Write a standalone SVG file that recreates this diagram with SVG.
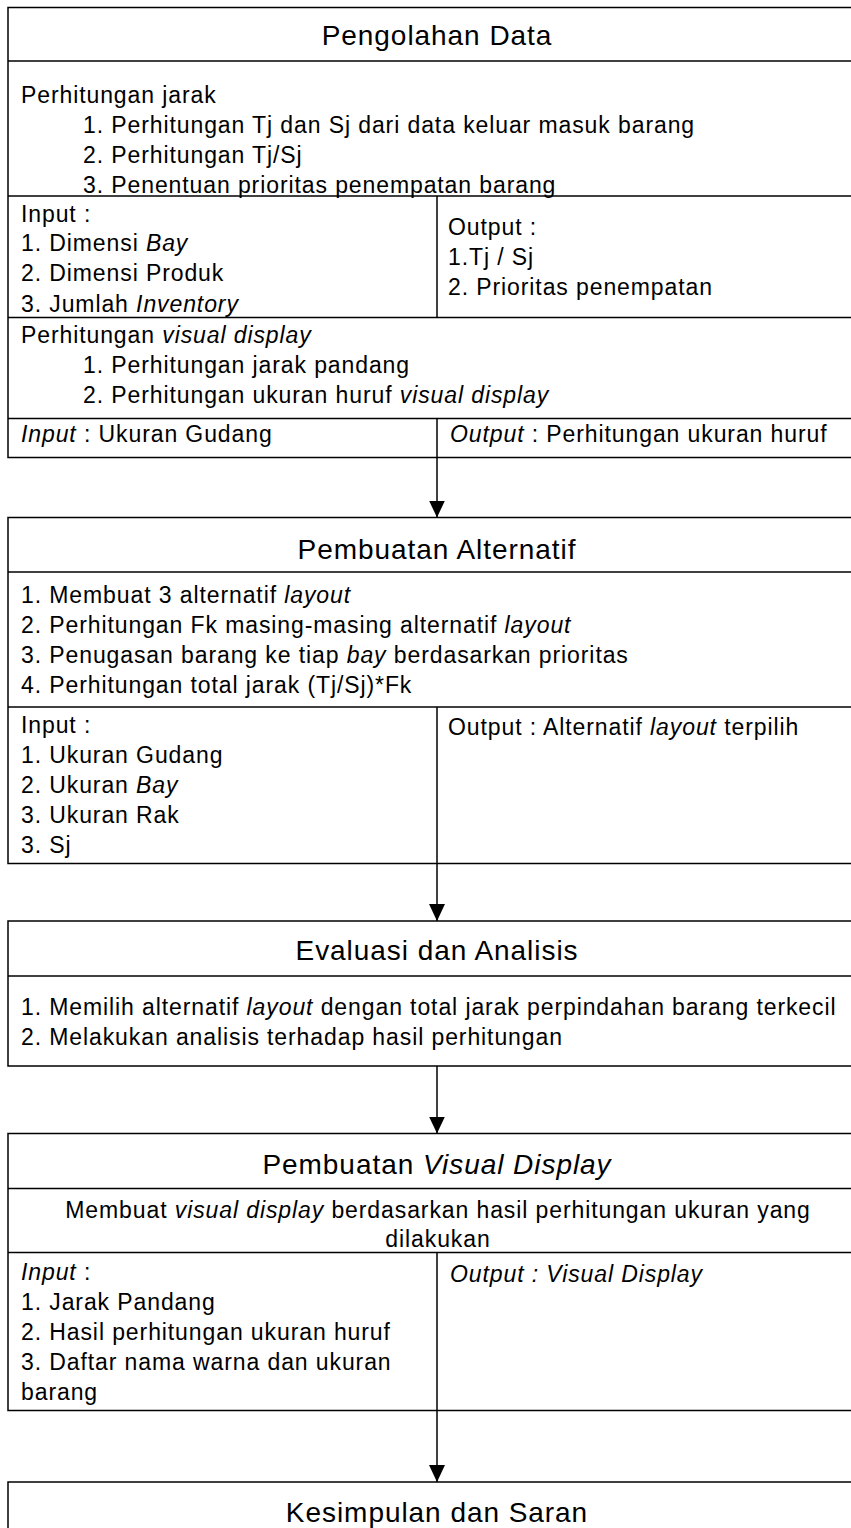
<svg xmlns="http://www.w3.org/2000/svg" width="851" height="1528" viewBox="0 0 851 1528">
<style>
.box{fill:#fff;stroke:#000;stroke-width:1.5}
.ln{stroke:#000;stroke-width:1.5;fill:none}
.t{font-family:"Liberation Sans",Arial,sans-serif;font-size:23px;letter-spacing:0.9px;fill:#000}
.h{font-family:"Liberation Sans",Arial,sans-serif;font-size:28px;letter-spacing:0.95px;fill:#000;text-anchor:middle}
.c{text-anchor:middle}
.i{font-style:italic}
</style>
<defs>
<marker id="arr" markerUnits="userSpaceOnUse" markerWidth="18" markerHeight="18" refX="17" refY="8" orient="auto">
<path d="M0,0 L17,8 L0,16 z" fill="#000"/>
</marker>
</defs>
<rect width="851" height="1528" fill="#fff"/>

<g id="node-pengolahan-data">
<rect class="box" x="8" y="7.5" width="858" height="450"/>
<line class="ln" x1="8" y1="61" x2="866" y2="61"/>
<line class="ln" x1="8" y1="196" x2="866" y2="196"/>
<line class="ln" x1="8" y1="317.5" x2="866" y2="317.5"/>
<line class="ln" x1="8" y1="418.5" x2="866" y2="418.5"/>
<line class="ln" x1="437" y1="196" x2="437" y2="317.5"/>
<line class="ln" x1="437" y1="418.5" x2="437" y2="457.5"/>
<text class="h" x="437" y="45">Pengolahan Data</text>
<text class="t" x="21" y="103">Perhitungan jarak</text>
<text class="t" x="83" y="133">1. Perhitungan Tj dan Sj dari data keluar masuk barang</text>
<text class="t" x="83" y="163">2. Perhitungan Tj/Sj</text>
<text class="t" x="83" y="193">3. Penentuan prioritas penempatan barang</text>
<text class="t" x="21" y="221.5">Input :</text>
<text class="t" x="21" y="251">1. Dimensi <tspan class="i">Bay</tspan></text>
<text class="t" x="21" y="281">2. Dimensi Produk</text>
<text class="t" x="21" y="311.5">3. Jumlah <tspan class="i">Inventory</tspan></text>
<text class="t" x="448" y="235">Output :</text>
<text class="t" x="448" y="265">1.Tj / Sj</text>
<text class="t" x="448" y="295">2. Prioritas penempatan</text>
<text class="t" x="21" y="343">Perhitungan <tspan class="i">visual display</tspan></text>
<text class="t" x="83" y="373">1. Perhitungan jarak pandang</text>
<text class="t" x="83" y="403">2. Perhitungan ukuran huruf <tspan class="i">visual display</tspan></text>
<text class="t" x="21" y="441.5"><tspan class="i">Input</tspan> : Ukuran Gudang</text>
<text class="t" x="450" y="441.5"><tspan class="i">Output</tspan> : Perhitungan ukuran huruf</text>
</g>

<g id="node-pembuatan-alternatif">
<rect class="box" x="8" y="517.5" width="858" height="346"/>
<line class="ln" x1="8" y1="572" x2="866" y2="572"/>
<line class="ln" x1="8" y1="707" x2="866" y2="707"/>
<line class="ln" x1="437" y1="707" x2="437" y2="863.5"/>
<text class="h" x="437" y="559">Pembuatan Alternatif</text>
<text class="t" x="21" y="603">1. Membuat 3 alternatif <tspan class="i">layout</tspan></text>
<text class="t" x="21" y="633">2. Perhitungan Fk masing-masing alternatif <tspan class="i">layout</tspan></text>
<text class="t" x="21" y="663">3. Penugasan barang ke tiap <tspan class="i">bay</tspan> berdasarkan prioritas</text>
<text class="t" x="21" y="693">4. Perhitungan total jarak (Tj/Sj)*Fk</text>
<text class="t" x="21" y="733">Input :</text>
<text class="t" x="21" y="763">1. Ukuran Gudang</text>
<text class="t" x="21" y="793">2. Ukuran <tspan class="i">Bay</tspan></text>
<text class="t" x="21" y="823">3. Ukuran Rak</text>
<text class="t" x="21" y="853">3. Sj</text>
<text class="t" x="448" y="735">Output : Alternatif <tspan class="i">layout</tspan> terpilih</text>
</g>

<g id="node-evaluasi">
<rect class="box" x="8" y="921" width="858" height="145"/>
<line class="ln" x1="8" y1="976" x2="866" y2="976"/>
<text class="h" x="437" y="960">Evaluasi dan Analisis</text>
<text class="t" x="21" y="1015">1. Memilih alternatif <tspan class="i">layout</tspan> dengan total jarak perpindahan barang terkecil</text>
<text class="t" x="21" y="1044.5">2. Melakukan analisis terhadap hasil perhitungan</text>
</g>

<g id="node-visual-display">
<rect class="box" x="8" y="1133.5" width="858" height="277"/>
<line class="ln" x1="8" y1="1188.5" x2="866" y2="1188.5"/>
<line class="ln" x1="8" y1="1252.5" x2="866" y2="1252.5"/>
<line class="ln" x1="437" y1="1252.5" x2="437" y2="1410.5"/>
<text class="h" x="437" y="1174">Pembuatan <tspan class="i">Visual Display</tspan></text>
<text class="t c" x="438" y="1217.5">Membuat <tspan class="i">visual display</tspan> berdasarkan hasil perhitungan ukuran yang</text>
<text class="t c" x="438" y="1247">dilakukan</text>
<text class="t" x="21" y="1280"><tspan class="i">Input</tspan> :</text>
<text class="t" x="21" y="1310">1. Jarak Pandang</text>
<text class="t" x="21" y="1340">2. Hasil perhitungan ukuran huruf</text>
<text class="t" x="21" y="1370">3. Daftar nama warna dan ukuran</text>
<text class="t" x="21" y="1399.5">barang</text>
<text class="t i" x="450" y="1281.5">Output : Visual Display</text>
</g>

<g id="node-kesimpulan">
<rect class="box" x="8" y="1482" width="858" height="80"/>
<text class="h" x="437" y="1521.5">Kesimpulan dan Saran</text>
</g>

<g id="connectors">
<line class="ln" x1="437" y1="457.5" x2="437" y2="517.5" marker-end="url(#arr)"/>
<line class="ln" x1="437" y1="863.5" x2="437" y2="921" marker-end="url(#arr)"/>
<line class="ln" x1="437" y1="1066" x2="437" y2="1133.5" marker-end="url(#arr)"/>
<line class="ln" x1="437" y1="1410.5" x2="437" y2="1482" marker-end="url(#arr)"/>
</g>
</svg>
